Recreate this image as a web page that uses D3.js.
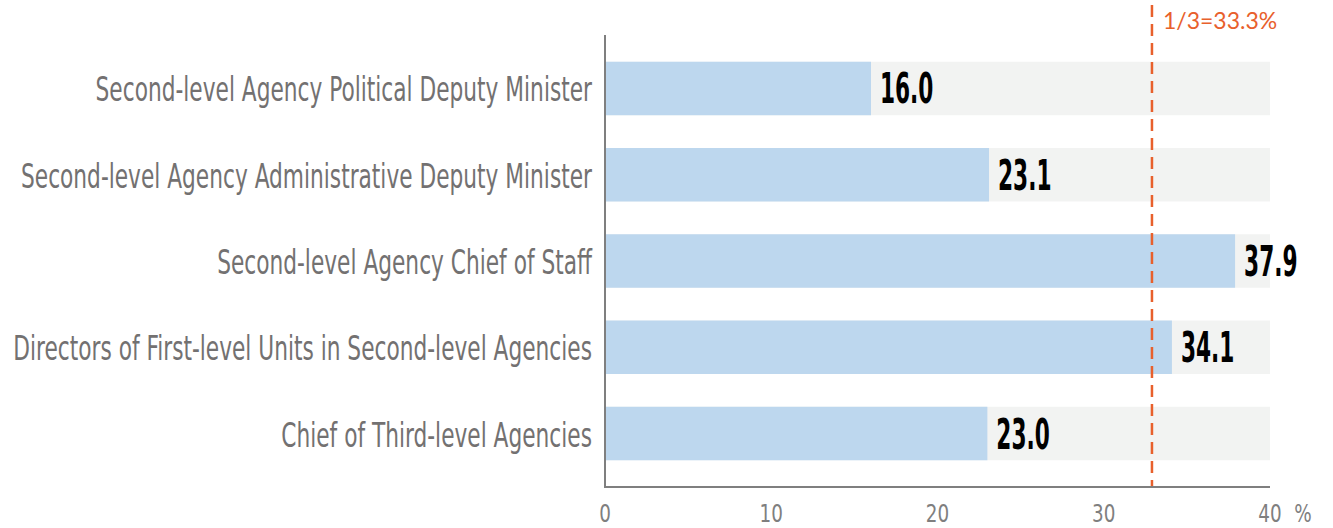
<!DOCTYPE html>
<html>
<head>
<meta charset="utf-8">
<script src="https://cdn.jsdelivr.net/npm/d3@7"></script>
<style>
  body { margin: 0; background: #fff; }
  svg { display: block; }
</style>
</head>
<body>
<svg></svg>
<script>
// Data
var categories = [
  "Second-level Agency Political Deputy Minister",
  "Second-level Agency Administrative Deputy Minister",
  "Second-level Agency Chief of Staff",
  "Directors of First-level Units in Second-level Agencies",
  "Chief of Third-level Agencies"
];
var values = [16.0, 23.1, 37.9, 34.1, 23.0];
var xTicks = [0, 10, 20, 30, 40];
var xMax = 40;
var refLine = 32.9;           // dashed line position as drawn
var refLabel = "1/3=33.3%";

var W = 1333, H = 528;
var svg = d3.select("svg").attr("width", W).attr("height", H);

var x = d3.scaleLinear().domain([0, xMax]).range([605, 1270]);
var y = d3.scaleBand().domain(categories).range([35, 487])
    .paddingInner(0.38).paddingOuter(0.31);

var narrow = "'Liberation Sans Narrow', 'DejaVu Sans Condensed', 'Arial Narrow', sans-serif";

// background bars
svg.append("g").selectAll("rect")
    .data(categories)
    .join("rect")
    .attr("x", x(0))
    .attr("y", d => y(d))
    .attr("width", x(xMax) - x(0))
    .attr("height", y.bandwidth())
    .attr("fill", "#f2f3f2");

// value bars
svg.append("g").selectAll("rect")
    .data(values)
    .join("rect")
    .attr("x", x(0))
    .attr("y", (d, i) => y(categories[i]))
    .attr("width", d => x(d) - x(0))
    .attr("height", y.bandwidth())
    .attr("fill", "#bdd7ee");

// dashed reference line
svg.append("line")
    .attr("x1", x(refLine)).attr("x2", x(refLine))
    .attr("y1", 5).attr("y2", 487)
    .attr("stroke", "#e8602c")
    .attr("stroke-width", 2.5)
    .attr("stroke-dasharray", "12,7");

svg.append("text")
    .attr("x", x(refLine) + 11)
    .attr("y", 29)
    .attr("fill", "#e8602c")
    .style("font-family", "Lato, 'Open Sans', sans-serif")
    .style("font-size", "23px")
    .text(refLabel);

// axes lines
svg.append("line")
    .attr("x1", x(0)).attr("x2", x(0))
    .attr("y1", 35).attr("y2", 487)
    .attr("stroke", "#7f7f7f").attr("stroke-width", 2);
svg.append("line")
    .attr("x1", x(0) - 1).attr("x2", x(xMax))
    .attr("y1", 487).attr("y2", 487)
    .attr("stroke", "#7f7f7f").attr("stroke-width", 2);

// condensed text helper: squeeze horizontally around anchor point
function squeeze(sel, k) {
    sel.each(function() {
        var t = d3.select(this);
        var ax = +t.attr("x"), ay = +t.attr("y");
        t.attr("transform", `translate(${ax},${ay}) scale(${k},1) translate(${-ax},${-ay})`);
    });
}

// category labels
svg.append("g").selectAll("text")
    .data(categories)
    .join("text")
    .attr("x", 592)
    .attr("y", d => y(d) + y.bandwidth() / 2 + 13)
    .attr("text-anchor", "end")
    .attr("fill", "#737171")
    .style("font-family", narrow)
    .style("font-size", "34px")
    .text(d => d)
    .call(squeeze, 0.71);

// value labels
svg.append("g").selectAll("text")
    .data(values)
    .join("text")
    .attr("x", d => x(d) + 9)
    .attr("y", (d, i) => y(categories[i]) + y.bandwidth() / 2 + 15)
    .attr("fill", "#000")
    .style("font-family", narrow)
    .style("font-weight", "bold")
    .style("font-size", "43px")
    .text(d => d.toFixed(1))
    .call(squeeze, 0.56);

// tick labels
svg.append("g").selectAll("text")
    .data(xTicks)
    .join("text")
    .attr("x", d => x(d))
    .attr("y", 522)
    .attr("text-anchor", "middle")
    .attr("fill", "#7f7f7f")
    .style("font-family", narrow)
    .style("font-size", "24px")
    .text(d => d)
    .call(squeeze, 0.85);

svg.append("text")
    .attr("x", x(xMax) + 33)
    .attr("y", 522)
    .attr("text-anchor", "middle")
    .attr("fill", "#7f7f7f")
    .style("font-family", narrow)
    .style("font-size", "24px")
    .text("%")
    .call(squeeze, 0.85);
</script>
</body>
</html>
